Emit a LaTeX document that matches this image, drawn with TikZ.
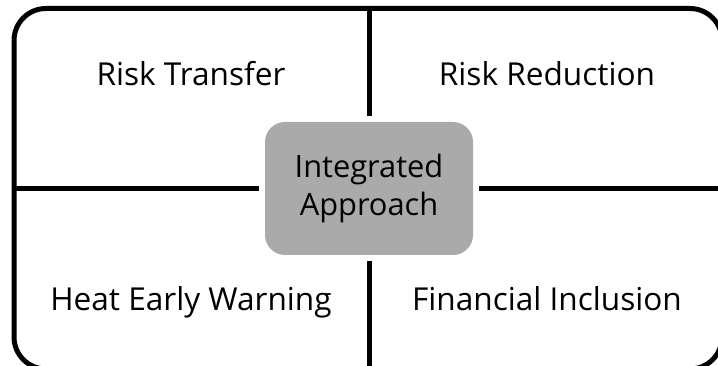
\documentclass[tikz,border=0pt]{standalone}
\usepackage{fontspec}
\setmainfont{Open Sans}
\definecolor{boxgray}{HTML}{AAAAAA}
\begin{document}
\begin{tikzpicture}[x=1pt,y=-1pt,
  frameline/.style={line width=5pt},
  divider/.style={line width=5pt, shorten >=6pt},
  quadlabel/.style={anchor=base, inner sep=0pt, font=\fontsize{31.6}{38}\selectfont},
  centerbox/.style={fill=boxgray, rounded corners=20pt, minimum width=208pt, minimum height=133pt, align=center, inner sep=0pt, font=\fontsize{30.8}{38}\selectfont}]
\useasboundingbox (0,0) rectangle (718,366);
\clip (0,0) rectangle (718,366);
\draw[frameline, rounded corners=32pt] (14,8.5) rectangle (722,369);
\node[centerbox] (c) at (369,188.5) {Integrated\\Approach};
\coordinate (t) at (369,8.5);
\coordinate (b) at (369,372);
\coordinate (l) at (14,188.5);
\coordinate (r) at (722,188.5);
\draw[divider] (t) -- (c);
\draw[divider] (b) -- (c);
\draw[divider] (l) -- (c);
\draw[divider] (r) -- (c);
\node[quadlabel] (rt) at (191,85.5) {Risk Transfer};
\node[quadlabel] (rr) at (547,85.5) {Risk Reduction};
\node[quadlabel] (hw) at (191,311) {Heat Early Warning};
\node[quadlabel] (fi) at (547,311) {Financial Inclusion};
\end{tikzpicture}
\end{document}
